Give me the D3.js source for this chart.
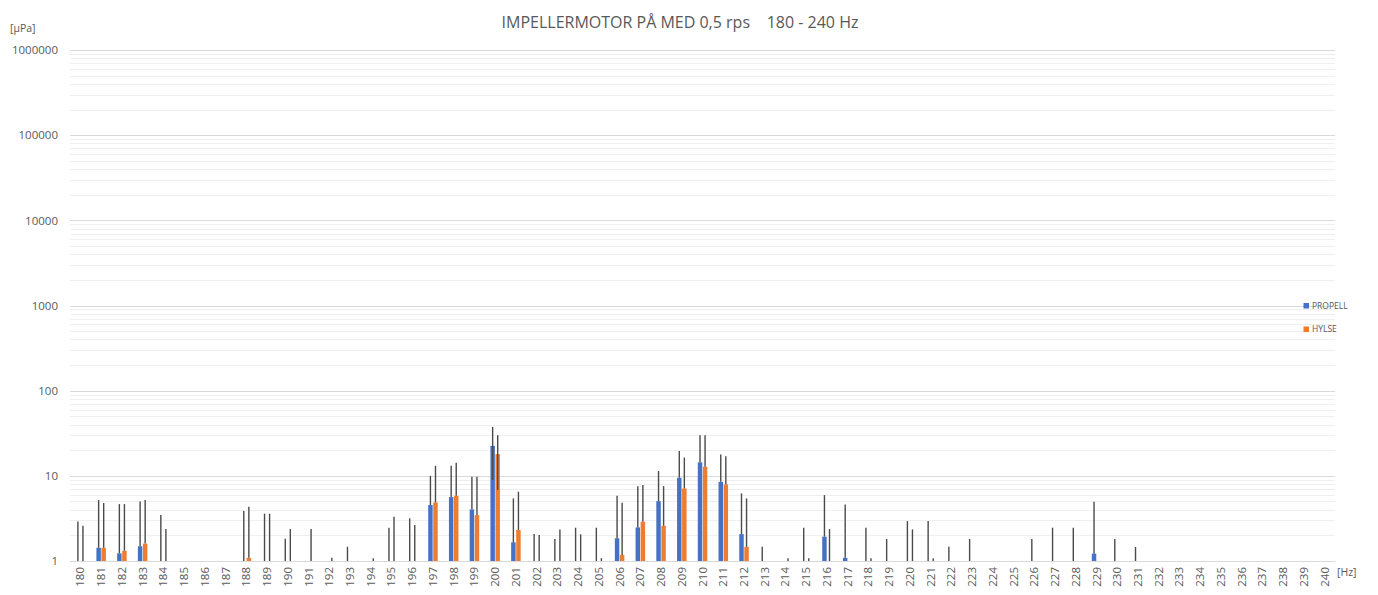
<!DOCTYPE html>
<html>
<head>
<meta charset="utf-8">
<script src="https://cdn.jsdelivr.net/npm/d3@7"></script>
<style>
  html, body { margin: 0; padding: 0; background: #fff; }
  svg { display: block; }
  text { font-family: "Open Sans", "Liberation Sans", sans-serif; fill: #595959; }
</style>
</head>
<body>
<script>
// ---------- DATA ----------
const categories = d3.range(180, 241).map(String);
const seriesNames = ["PROPELL", "HYLSE"];
const yTickValues = [1, 10, 100, 1000, 10000, 100000, 1000000];

// bar values (null = no data, 0 = below axis, only error bar visible)
const propell = [0,1.43,1.23,1.49,0,null,null,null,0,0,
                 0,null,null,0,null,0,0,4.54,5.63,4.04,
                 22.5,1.66,0,0,0,0,1.85,2.48,5.05,9.48,
                 14.4,8.5,2.07,0,null,0,1.93,1.09,0,0,
                 0,0,0,0,null,null,0,0,0,1.22,
                 0,0,null,null,null,null,null,null,null,null,null];
const propellErrPlus = [2.9,3.77,3.43,3.51,3.46,0,0,0,3.86,3.59,
                 1.83,0,0,1.47,0,2.46,3.17,5.46,7.47,5.69,
                 15,3.77,2.07,1.81,2.46,2.46,3.98,5.09,6.35,10.1,
                 15.6,9.3,4.15,1.47,0,2.46,4.01,3.53,2.46,1.81,
                 2.94,2.94,1.47,1.81,0,0,1.81,2.46,2.46,3.74,
                 1.81,1.46,0,0,0,0,0,0,0,0,0];
const propellErrMinus = categories.map(c => c === "200" ? 13.6 : 0);

const hylse = [0,1.43,1.32,1.6,0,null,null,null,1.09,0,
               0,0,0,null,0,0,0,4.88,5.83,3.46,
               18,2.31,0,0,0,0,1.18,2.89,2.59,7.11,
               12.8,7.93,1.47,null,0,0,0,null,0,null,
               0,0,null,null,null,null,null,null,null,null,
               null,null,null,null,null,null,null,null,null,null,null];
const hylseErrPlus = [2.6,3.37,3.34,3.6,2.37,0,0,0,3.24,3.59,
               2.37,2.37,1.09,0,1.08,3.31,2.64,8.22,8.37,6.27,
               12,4.19,2.02,2.35,2.06,1.08,3.65,4.89,4.98,9.3,
               17.2,9.07,3.96,0,1.08,1.08,2.37,0,1.08,0,
               2.35,1.08,0,0,0,0,0,0,0,0,
               0,0,0,0,0,0,0,0,0,0,0];
const hylseErrMinus = categories.map(c => c === "200" ? 11.2 : 0);

const colors = ["#4472C4", "#ED7D31"];

// ---------- LAYOUT ----------
const W = 1378, H = 595;
const plot = { left: 70, right: 1335, top: 50, bottom: 561 };

const svg = d3.select("body").append("svg").attr("width", W).attr("height", H);

const x = d3.scaleBand().domain(categories).range([plot.left, plot.right]).padding(0);
const y = d3.scaleLog().domain([1, 1000000]).range([plot.bottom, plot.top]);

// gridlines
const minorVals = [];
for (let e = 0; e < 6; e++) for (let m = 2; m <= 9; m++) minorVals.push(m * Math.pow(10, e));
svg.append("g").selectAll("line").data(minorVals).join("line")
  .attr("x1", plot.left).attr("x2", plot.right)
  .attr("y1", d => Math.round(y(d)) + 0.5).attr("y2", d => Math.round(y(d)) + 0.5)
  .attr("stroke", "#efefef").attr("stroke-width", 1);
svg.append("g").selectAll("line").data(yTickValues).join("line")
  .attr("x1", plot.left).attr("x2", plot.right)
  .attr("y1", d => Math.round(y(d)) + 0.5).attr("y2", d => Math.round(y(d)) + 0.5)
  .attr("stroke", "#d9d9d9").attr("stroke-width", 1);

// y axis labels
const yAxis = d3.axisLeft(y).tickValues(yTickValues).tickSize(0).tickPadding(0).tickFormat(d => String(d));
const gy = svg.append("g").attr("transform", `translate(${plot.left - 12},0)`).call(yAxis);
gy.select(".domain").remove();
gy.selectAll("text").style("font-size", "11.5px").attr("fill", "#595959")
  .style("font-family", "'Open Sans', sans-serif");

// x axis labels
const xAxis = d3.axisBottom(x).tickSize(0).tickPadding(0);
const gx = svg.append("g").attr("transform", `translate(0,${plot.bottom})`).call(xAxis);
gx.select(".domain").remove();
gx.selectAll("text")
  .style("font-size", "11.5px").attr("fill", "#595959")
  .attr("text-anchor", "end")
  .attr("transform", "rotate(-90)")
  .attr("x", -6).attr("y", 0).attr("dy", "0.35em");

// bars
const bw = x.bandwidth();
const barW = bw * 0.215;
const series = [
  { vals: propell, plus: propellErrPlus, minus: propellErrMinus, off: -barW - 0.25, color: colors[0] },
  { vals: hylse, plus: hylseErrPlus, minus: hylseErrMinus, off: 0.35, color: colors[1] }
];

series.forEach(s => {
  const data = categories.map((c, i) => ({ c, v: s.vals[i], p: s.plus[i], m: s.minus[i] }));
  svg.append("g").selectAll("rect").data(data.filter(d => d.v != null && d.v > 1)).join("rect")
    .attr("x", d => x(d.c) + bw / 2 + s.off)
    .attr("width", barW)
    .attr("y", d => y(d.v))
    .attr("height", d => y(1) - y(d.v))
    .attr("fill", s.color);
  svg.append("g").selectAll("line").data(data.filter(d => d.p > 0)).join("line")
    .attr("x1", d => x(d.c) + bw / 2 + s.off + barW / 2)
    .attr("x2", d => x(d.c) + bw / 2 + s.off + barW / 2)
    .attr("y1", d => y(Math.max(1, (d.v || 0) - d.m)))
    .attr("y2", d => y((d.v || 0) + d.p))
    .attr("stroke", "#4a4a4a").attr("stroke-width", 1.4);
});

// title
svg.append("text").attr("x", 680).attr("y", 28).attr("text-anchor", "middle")
  .style("font-size", "16px").style("white-space", "pre").attr("xml:space", "preserve")
  .text("IMPELLERMOTOR PÅ MED 0,5 rps    180 - 240 Hz");

// unit labels
svg.append("text").attr("x", 10).attr("y", 32).style("font-size", "10.5px").text("[µPa]");
svg.append("text").attr("x", 1337).attr("y", 576).style("font-size", "10.5px").text("[Hz]");

// legend
const legend = svg.append("g");
seriesNames.forEach((n, i) => {
  const ly = 303 + i * 23.5;
  legend.append("rect").attr("x", 1303.5).attr("y", ly).attr("width", 5.5).attr("height", 5.5).attr("fill", colors[i]);
  legend.append("text").attr("x", 1312).attr("y", ly + 5.8).style("font-size", "8.5px").text(n);
});
</script>
</body>
</html>
